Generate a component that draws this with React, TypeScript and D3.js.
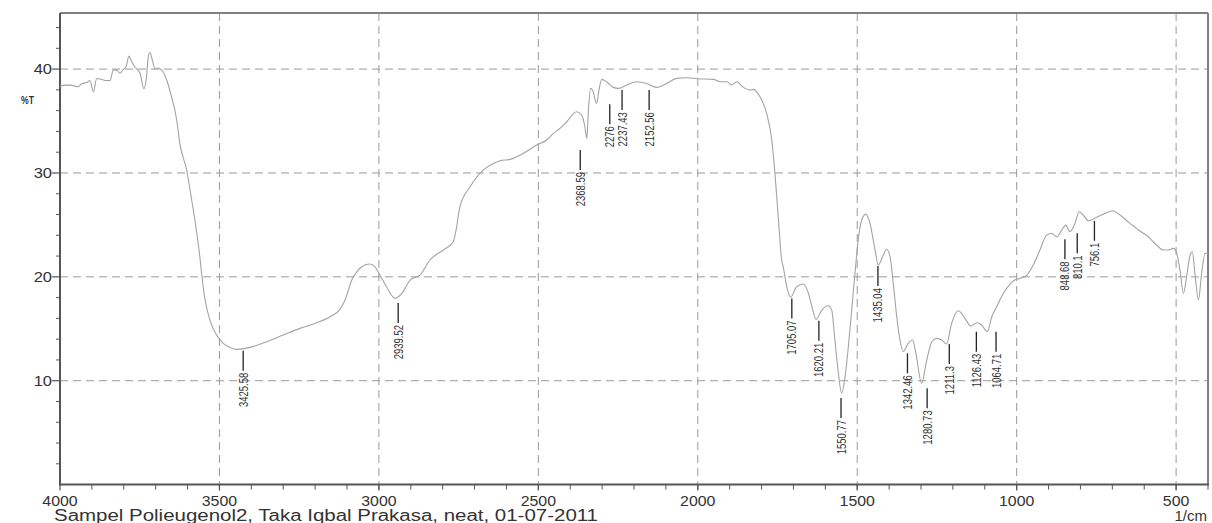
import React from "react";
import * as d3 from "d3";

// Spectrum trace (wavenumber in 1/cm, transmittance in %T)
const wavenumbers = [
  4000, 3984, 3969, 3953, 3943, 3932, 3916, 3906, 3895, 3885, 3869, 3854, 3843, 3833, 3822, 3812, 3801, 3793,
  3784, 3775, 3765, 3749, 3737, 3730, 3723, 3718, 3709, 3702, 3697, 3686, 3676, 3665, 3650, 3634, 3624, 3603,
  3587, 3571, 3561, 3556, 3545, 3530, 3509, 3488, 3467, 3444, 3404, 3352, 3300, 3247, 3195, 3153, 3122, 3106,
  3085, 3065, 3044, 3028, 3012, 2997, 2976, 2949, 2928, 2902, 2871, 2840, 2798, 2767, 2758, 2746, 2714, 2673,
  2641, 2620, 2589, 2547, 2505, 2474, 2453, 2432, 2411, 2380, 2364, 2354, 2348, 2343, 2336, 2330, 2317, 2310,
  2301, 2286, 2265, 2249, 2223, 2192, 2160, 2129, 2097, 2066, 2035, 2000, 1951, 1930, 1909, 1894, 1878, 1857,
  1836, 1826, 1805, 1784, 1768, 1758, 1747, 1737, 1732, 1721, 1709, 1690, 1669, 1653, 1638, 1629, 1611, 1591,
  1580, 1570, 1559, 1549, 1538, 1523, 1507, 1497, 1486, 1473, 1460, 1444, 1434, 1418, 1408, 1397, 1387, 1376,
  1366, 1356, 1340, 1326, 1316, 1298, 1282, 1266, 1251, 1235, 1220, 1204, 1183, 1162, 1144, 1125, 1110, 1092,
  1078, 1063, 1042, 1021, 1010, 989, 968, 948, 927, 906, 890, 874, 859, 846, 833, 817, 804, 791, 775, 749, 723,
  699, 676, 645, 624, 603, 587, 572, 561, 540, 524, 509, 498, 488, 477, 467, 456, 449, 441, 430, 420, 409, 400,
];
const transmittance = [
  38.36, 38.46, 38.46, 38.36, 38.3, 38.6, 38.7, 38.9, 37.8, 39.1, 39.0, 38.9, 38.9, 39.9, 39.9, 39.6, 40.0, 40.2,
  41.25, 40.7, 40.2, 39.6, 38.1, 38.9, 41.2, 41.6, 40.7, 40.0, 40.1, 40.0, 39.7, 38.9, 37.3, 35.1, 32.8, 30.3,
  27.4, 24.2, 21.8, 20.34, 17.78, 15.84, 14.4, 13.6, 13.21, 13.02, 13.21, 13.75, 14.4, 15.04, 15.58, 16.16, 16.87, 17.77,
  19.69, 20.65, 21.14, 21.24, 20.97, 20.17, 19.05, 17.93, 18.41, 19.69, 20.17, 21.62, 22.58, 23.38, 24.5, 26.75, 28.67, 30.28,
  30.92, 31.17, 31.31, 31.89, 32.69, 33.17, 33.81, 34.29, 34.93, 35.89, 35.57, 34.45, 33.33, 36.05, 38.14, 37.98, 36.7, 37.98,
  39.01, 38.78, 38.24, 38.14, 38.46, 38.78, 38.62, 38.24, 38.62, 39.11, 39.16, 39.07, 39.01, 38.78, 38.78, 38.46, 38.78, 38.24,
  37.98, 38.05, 37.33, 35.74, 33.17, 29.96, 25.5, 21.62, 20.97, 19.05, 18.03, 19.05, 19.31, 18.41, 16.64, 15.91, 16.8, 17.22,
  16.8, 13.92, 10.71, 8.79, 10.39, 14.88, 20.34, 23.54, 25.47, 26.04, 25.15, 22.58, 21.14, 22.1, 22.65, 21.93, 19.37, 16.16,
  13.92, 12.79, 13.6, 13.92, 12.64, 9.75, 11.99, 13.75, 14.08, 13.92, 13.53, 15.52, 16.74, 16.01, 15.26, 15.58, 15.36, 14.72,
  16.16, 17.12, 18.4, 19.3, 19.62, 19.86, 20.17, 21.14, 22.58, 24.02, 24.19, 23.86, 24.5, 24.98, 24.34, 25.15, 26.27, 25.95, 25.4, 25.73, 26.11,
  26.36, 25.95, 25.15, 24.67, 24.19, 23.86, 23.38, 23.06, 22.58, 22.58, 22.74, 22.26, 20.65, 18.41, 20.01, 22.1, 22.42, 20.34, 17.77, 20.34, 22.26, 22.26,
];

// Picked peaks
const peakLabels = [
  "3425.58", "2939.52", "2368.59", "2276", "2237.43", "2152.56", "1705.07", "1620.21", "1550.77",
  "1435.04", "1342.46", "1280.73", "1211.3", "1126.43", "1064.71", "848.68", "810.1", "756.1",
];
const peakT = [13.08, 17.67, 32.4, 36.82, 38.17, 38.17, 18.12, 15.97, 8.53, 21.23, 12.83, 9.46, 13.72, 14.91, 14.91, 23.8, 24.38, 25.59];

const xMajorTicks = [4000, 3500, 3000, 2500, 2000, 1500, 1000, 500];
const xGridTicks = [3500, 3000, 2500, 2000, 1500, 1000, 500];
const yMajorTicks = [10, 20, 30, 40];
const yMinorTicks = [2, 4, 6, 8, 12, 14, 16, 18, 22, 24, 26, 28, 32, 34, 36, 38, 42, 44];
const xMinorTicks = d3.range(3900, 399, -100);

const caption = "Sampel Polieugenol2, Taka Iqbal Prakasa, neat, 01-07-2011";
const yTitle = "%T";
const xUnit = "1/cm";

const W = 1212;
const H = 523;
const L = 60, R = 1208, T = 13, B = 484.6;

export default function App() {
  const x = d3.scaleLinear().domain([4000, 400]).range([L, R]);
  const y = d3.scaleLinear().domain([0, 45.4]).range([B, T]);
  const data = wavenumbers.map((w, i) => [w, transmittance[i]] as [number, number]);
  const line = d3
    .line<[number, number]>()
    .x((d) => x(d[0]))
    .y((d) => y(d[1]))
    .curve(d3.curveMonotoneX);

  const font = "'Liberation Sans', Arial, sans-serif";
  const textCol = "#333";

  return (
    <svg width={W} height={H} style={{ position: "absolute", left: 0, top: 0, background: "#fff" }} fontFamily={font}>
      <rect x={0} y={0} width={W} height={H} fill="#fff" />
      {/* grid */}
      {xGridTicks.map((t) => (
        <line key={"gx" + t} x1={x(t)} x2={x(t)} y1={T} y2={B} stroke="#9a9a9a" strokeWidth={1} strokeDasharray="8,5" />
      ))}
      {yMajorTicks.map((t) => (
        <line key={"gy" + t} x1={L} x2={R} y1={y(t)} y2={y(t)} stroke="#9a9a9a" strokeWidth={1} strokeDasharray="8,5" />
      ))}
      {/* frame */}
      <line x1={L} x2={R} y1={T} y2={T} stroke="#808080" strokeWidth={2} />
      <line x1={R} x2={R} y1={T} y2={B} stroke="#808080" strokeWidth={2} />
      <line x1={L} x2={L} y1={T} y2={B + 1} stroke="#555" strokeWidth={2} />
      <line x1={L - 1} x2={R + 1} y1={B} y2={B} stroke="#555" strokeWidth={2} />
      {/* y ticks */}
      {yMinorTicks.map((t) => (
        <line key={"ymt" + t} x1={L - 4} x2={L} y1={y(t)} y2={y(t)} stroke="#555" strokeWidth={1} />
      ))}
      {yMajorTicks.map((t) => (
        <g key={"yt" + t}>
          <line x1={L - 8} x2={L} y1={y(t)} y2={y(t)} stroke="#555" strokeWidth={1.2} />
          <text
            transform={`translate(52,${y(t)}) scale(1.1,1)`}
            textAnchor="end"
            dominantBaseline="central"
            fontSize={15}
            fill={textCol}
          >
            {t}
          </text>
        </g>
      ))}
      <text x={21} y={104} fontSize={11} fontWeight="bold" fill={textCol} textLength={13} lengthAdjust="spacingAndGlyphs">
        {yTitle}
      </text>
      {/* x ticks */}
      {xMinorTicks.map((t) => (
        <line key={"xmt" + t} x1={x(t)} x2={x(t)} y1={B} y2={B + 5} stroke="#555" strokeWidth={1} />
      ))}
      {xMajorTicks.map((t) => (
        <g key={"xt" + t}>
          <line x1={x(t)} x2={x(t)} y1={B} y2={B + 6} stroke="#555" strokeWidth={1.2} />
          <text transform={`translate(${x(t)},506) scale(1.06,1)`} textAnchor="middle" fontSize={15} fill={textCol}>
            {t}
          </text>
        </g>
      ))}
      <text x={1207} y={521} textAnchor="end" fontSize={15} fill={textCol}>
        {xUnit}
      </text>
      <text x={54} y={521} fontSize={16} fill={textCol} textLength={544} lengthAdjust="spacingAndGlyphs">
        {caption}
      </text>
      {/* spectrum */}
      <path d={line(data) || ""} fill="none" stroke="#a3a3a3" strokeWidth={1.1} />
      {/* peaks */}
      {peakLabels.map((lab, i) => {
        const px = x(+lab);
        const py = y(peakT[i]);
        return (
          <g key={"pk" + lab}>
            <line x1={px} x2={px} y1={py + 2} y2={py + 22} stroke="#222" strokeWidth={1.3} />
            <text
              transform={`translate(${px},${py + 24}) rotate(-90) scale(0.76,1)`}
              textAnchor="end"
              dominantBaseline="central"
              fontSize={12.5}
              fill={textCol}
            >
              {lab}
            </text>
          </g>
        );
      })}
    </svg>
  );
}
